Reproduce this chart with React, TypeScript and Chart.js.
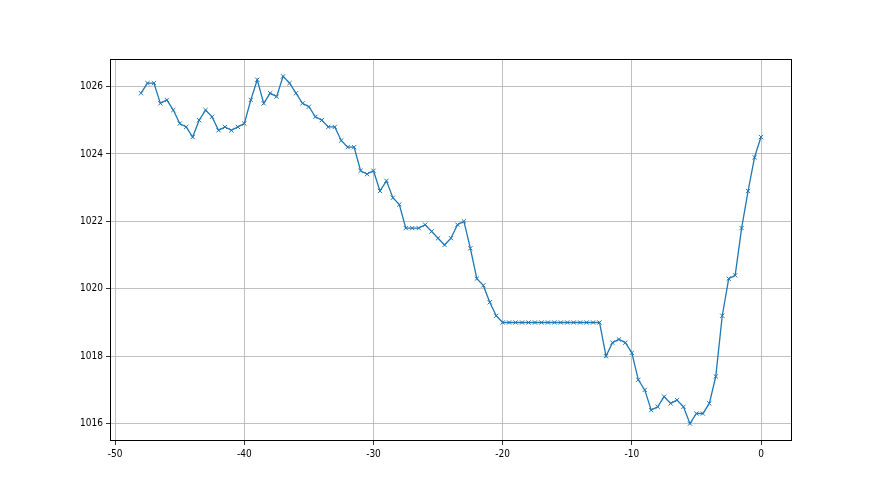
import React, { useEffect, useRef } from "react";
import { Chart, registerables } from "chart.js";

Chart.register(...registerables);

const xStart = -48;
const xStep = 0.5;
const pressure = [
  1025.8, 1026.1, 1026.1, 1025.5, 1025.6, 1025.3, 1024.9, 1024.8, 1024.5, 1025.0,
  1025.3, 1025.1, 1024.7, 1024.8, 1024.7, 1024.8, 1024.9, 1025.6, 1026.2, 1025.5,
  1025.8, 1025.7, 1026.3, 1026.1, 1025.8, 1025.5, 1025.4, 1025.1, 1025.0, 1024.8,
  1024.8, 1024.4, 1024.2, 1024.2, 1023.5, 1023.4, 1023.5, 1022.9, 1023.2, 1022.7,
  1022.5, 1021.8, 1021.8, 1021.8, 1021.9, 1021.7, 1021.5, 1021.3, 1021.5, 1021.9,
  1022.0, 1021.2, 1020.3, 1020.1, 1019.6, 1019.2, 1019.0, 1019.0, 1019.0, 1019.0,
  1019.0, 1019.0, 1019.0, 1019.0, 1019.0, 1019.0, 1019.0, 1019.0, 1019.0, 1019.0,
  1019.0, 1019.0, 1018.0, 1018.4, 1018.5, 1018.4, 1018.1, 1017.3, 1017.0, 1016.4,
  1016.5, 1016.8, 1016.6, 1016.7, 1016.5, 1016.0, 1016.3, 1016.3, 1016.6, 1017.4,
  1019.2, 1020.3, 1020.4, 1021.8, 1022.9, 1023.9, 1024.5,
];
const xTicks = [-50, -40, -30, -20, -10, 0];
const yTicks = [1016, 1018, 1020, 1022, 1024, 1026];

const FONT = "'DejaVu Sans Condensed', 'Liberation Sans Narrow', 'DejaVu Sans', sans-serif";

export default function App() {
  const ref = useRef<HTMLCanvasElement>(null);
  useEffect(() => {
    document.body.style.margin = "0";
    const points = pressure.map((v, i) => ({ x: xStart + i * xStep, y: v }));
    const frame = {
      id: "frame",
      afterDraw(chart: any) {
        const { ctx, chartArea: a } = chart;
        ctx.save();
        ctx.strokeStyle = "#000";
        ctx.lineWidth = 1;
        ctx.strokeRect(Math.round(a.left) + 0.5, Math.round(a.top) + 0.5, Math.round(a.right - a.left) - 1, Math.round(a.bottom - a.top) - 1);
        ctx.restore();
      },
    };
    const chart = new Chart(ref.current!, {
      type: "line",
      data: {
        datasets: [
          {
            data: points,
            borderColor: "#1f77b4",
            backgroundColor: "#1f77b4",
            borderWidth: 1.3,
            pointStyle: "crossRot",
            pointRadius: 3,
            pointBorderWidth: 1,
            pointBorderColor: "#1f77b4",
            tension: 0,
            fill: false,
          },
        ],
      },
      options: {
        animation: false,
        responsive: false,
        layout: { padding: { left: 0, top: 59, right: 88, bottom: 0 } },
        plugins: { legend: { display: false }, tooltip: { enabled: false } },
        scales: {
          x: {
            type: "linear",
            min: -50.4,
            max: 2.4,
            afterBuildTicks: (s: any) => {
              s.ticks = xTicks.map((v) => ({ value: v }));
            },
            afterFit: (s: any) => {
              s.height = 54;
            },
            grid: { color: "#b0b0b0", lineWidth: 0.8, tickColor: "#000", tickLength: 4, drawTicks: true },
            border: { display: false },
            ticks: { color: "#000", font: { family: FONT, size: 10 }, padding: 3, maxRotation: 0, callback: (v: any) => String(v) },
          },
          y: {
            type: "linear",
            min: 1015.485,
            max: 1026.815,
            afterBuildTicks: (s: any) => {
              s.ticks = yTicks.map((v) => ({ value: v }));
            },
            afterFit: (s: any) => {
              s.width = 110;
            },
            grid: { color: "#b0b0b0", lineWidth: 0.8, tickColor: "#000", tickLength: 4, drawTicks: true },
            border: { display: false },
            ticks: { color: "#000", font: { family: FONT, size: 10 }, padding: 3, callback: (v: any) => String(v) },
          },
        },
      },
      plugins: [frame],
    });
    return () => chart.destroy();
  }, []);
  return (
    <div style={{ width: 880, height: 495, background: "#fff" }}>
      <canvas ref={ref} width={880} height={495} style={{ display: "block" }} />
    </div>
  );
}
